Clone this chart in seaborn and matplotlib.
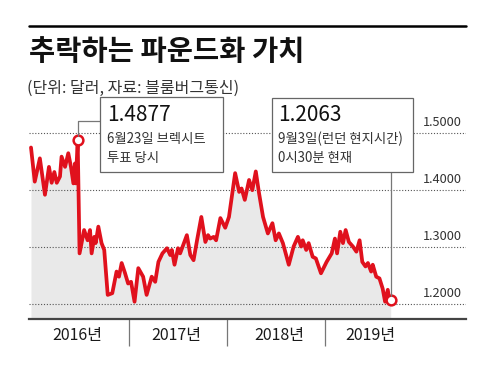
import numpy as np
import pandas as pd
import matplotlib
matplotlib.use("Agg")
import matplotlib.pyplot as plt
import matplotlib.dates as mdates
import seaborn as sns
from matplotlib.patches import Rectangle
from matplotlib.lines import Line2D
from matplotlib.ticker import FixedLocator, FixedFormatter, NullFormatter

# ---------------- data ----------------
dates = [
    "2016-01-01", "2016-01-15", "2016-02-03", "2016-02-22", "2016-03-08", "2016-03-18",
    "2016-03-28", "2016-04-06", "2016-04-18", "2016-04-24", "2016-05-07", "2016-05-19",
    "2016-05-29", "2016-06-07", "2016-06-13", "2016-06-16", "2016-06-23", "2016-06-30",
    "2016-07-17", "2016-07-30", "2016-08-08", "2016-08-14", "2016-08-24", "2016-08-29",
    "2016-09-08", "2016-09-20", "2016-09-30", "2016-10-13", "2016-10-30", "2016-11-15",
    "2016-11-24", "2016-12-04", "2016-12-16", "2016-12-28", "2017-01-08", "2017-01-21",
    "2017-02-04", "2017-02-22", "2017-03-07", "2017-03-26", "2017-04-08", "2017-04-20",
    "2017-05-05", "2017-05-22", "2017-06-03", "2017-06-09", "2017-06-19", "2017-07-02",
    "2017-07-10", "2017-08-04", "2017-08-17", "2017-08-29", "2017-09-11", "2017-09-27",
    "2017-10-12", "2017-10-22", "2017-10-30", "2017-11-12", "2017-11-21", "2017-12-07",
    "2017-12-25", "2018-01-08", "2018-01-31", "2018-02-15", "2018-02-24", "2018-03-08",
    "2018-03-24", "2018-04-05", "2018-04-18", "2018-04-30", "2018-05-15", "2018-06-02",
    "2018-06-19", "2018-07-01", "2018-07-13", "2018-07-28", "2018-08-19", "2018-09-06",
    "2018-09-22", "2018-10-04", "2018-10-10", "2018-10-23", "2018-11-01", "2018-11-16",
    "2018-11-28", "2018-12-17", "2019-01-07", "2019-01-26", "2019-02-07", "2019-02-15",
    "2019-02-27", "2019-03-09", "2019-03-19", "2019-03-31", "2019-04-15", "2019-04-28",
    "2019-05-10", "2019-05-20", "2019-06-01", "2019-06-10", "2019-06-22", "2019-06-28",
    "2019-07-11", "2019-07-23", "2019-08-04", "2019-08-13", "2019-08-23", "2019-08-30",
    "2019-09-03",
]
values = [
    1.475, 1.415, 1.456, 1.392, 1.441, 1.413,
    1.432, 1.413, 1.424, 1.459, 1.441, 1.465,
    1.441, 1.412, 1.447, 1.412, 1.4877, 1.289,
    1.330, 1.312, 1.330, 1.289, 1.318, 1.307,
    1.336, 1.307, 1.295, 1.216, 1.219, 1.257,
    1.248, 1.272, 1.255, 1.236, 1.239, 1.204,
    1.263, 1.248, 1.216, 1.248, 1.239, 1.274,
    1.289, 1.298, 1.286, 1.295, 1.269, 1.298,
    1.289, 1.321, 1.286, 1.277, 1.312, 1.353,
    1.309, 1.321, 1.315, 1.318, 1.312, 1.351,
    1.334, 1.353, 1.430, 1.397, 1.403, 1.383,
    1.418, 1.400, 1.433, 1.395, 1.353, 1.324,
    1.342, 1.312, 1.324, 1.307, 1.269, 1.301,
    1.318, 1.301, 1.312, 1.295, 1.307, 1.283,
    1.280, 1.254, 1.274, 1.289, 1.315, 1.289,
    1.327, 1.307, 1.330, 1.309, 1.301, 1.292,
    1.312, 1.274, 1.266, 1.272, 1.257, 1.269,
    1.248, 1.245, 1.227, 1.204, 1.225, 1.204,
    1.2063,
]
title = "추락하는 파운드화 가치"
subtitle = "(단위: 달러, 자료: 블룸버그통신)"
year_boundaries = ["2017-01-01", "2018-01-01", "2019-01-01"]
year_label_dates = ["2016-06-20", "2017-06-25", "2018-07-14", "2019-06-21"]
year_labels = ["2016년", "2017년", "2018년", "2019년"]
ytick_values = [1.2, 1.3, 1.4, 1.5]
ytick_labels = ["1.2000", "1.3000", "1.4000", "1.5000"]
brexit_date, brexit_value = "2016-06-23", 1.4877
brexit_lines = ["1.4877", "6월23일 브렉시트", "투표 당시"]
latest_date, latest_value = "2019-09-03", 1.2063
latest_lines = ["1.2063", "9월3일(런던 현지시간)", "0시30분 현재"]

df = pd.DataFrame({"date": pd.to_datetime(dates), "value": values})

# ---------------- style ----------------
sns.set_style("white")
plt.rcParams["font.family"] = ["Noto Sans CJK KR", "DejaVu Sans"]

W, H = 482, 372
RED = "#e0111d"
fig = plt.figure(figsize=(W / 100, H / 100), dpi=100)


def fx(x):
    return x / W


def fy(y):
    return 1 - y / H


ax = fig.add_axes([fx(29), fy(319), (466 - 29) / W, (319 - 96) / H])

d0 = mdates.date2num(pd.Timestamp("2016-01-01"))
d3 = mdates.date2num(pd.Timestamp("2019-01-01"))
k = (325 - 31) / (d3 - d0)
ax.set_xlim(d0 - 2 / k, d0 + 435 / k)
ypx = 569.0
ybot = 1.2 - 15 / ypx
ax.set_ylim(ybot, 1.2 + 208 / ypx)

# fill under the curve
ax.fill_between(mdates.date2num(df["date"]), df["value"], ybot,
                color="#e9e9e9", lw=0, zorder=1)

# dotted gridlines
for v in ytick_values:
    ax.axhline(v, color="#555555", lw=0.8, ls=(0, (1, 1.6)), zorder=2)

sns.lineplot(data=df, x="date", y="value", ax=ax, color=RED, lw=2.7,
             zorder=3, legend=False)

# markers
for dt, v in [(brexit_date, brexit_value), (latest_date, latest_value)]:
    ax.plot([mdates.date2num(pd.Timestamp(dt))], [v], marker="o", ms=7.0,
            mfc="white", mec=RED, mew=1.8, zorder=6, clip_on=False)

# y labels inside at right
for v, lab in zip(ytick_values, ytick_labels):
    ax.text(0.991, v + 10.6 / ypx, lab, transform=ax.get_yaxis_transform(),
            ha="right", va="center", fontsize=9.2, color="#333333", zorder=4)

ax.set_yticks([])
ax.set_ylabel("")
ax.set_xlabel("")

# x axis: year separators + labels
ax.xaxis.set_major_locator(FixedLocator(mdates.date2num(pd.to_datetime(year_boundaries))))
ax.xaxis.set_major_formatter(NullFormatter())
ax.xaxis.set_minor_locator(FixedLocator(mdates.date2num(pd.to_datetime(year_label_dates))))
ax.xaxis.set_minor_formatter(FixedFormatter(year_labels))
ax.tick_params(axis="x", which="major", length=19.4, width=0.9, color="#777777",
               direction="out", bottom=True)
ax.tick_params(axis="x", which="minor", length=0, pad=5.5, labelsize=11.5,
               labelcolor="#1a1a1a", bottom=True)

for s in ["top", "right", "left"]:
    ax.spines[s].set_visible(False)
ax.spines["bottom"].set_color("#444444")
ax.spines["bottom"].set_linewidth(1.6)
ax.spines["bottom"].set_zorder(5)

# ---------------- title block ----------------
fig.add_artist(Line2D([fx(29), fx(466)], [fy(26), fy(26)], color="black", lw=1.8))
fig.text(fx(29), fy(52), title, fontsize=20.5, fontweight="black", color="#111111",
         ha="left", va="center")
fig.text(fx(27), fy(88), subtitle, fontsize=11.5, color="#333333",
         ha="left", va="center")

# ---------------- annotation boxes ----------------
fig.canvas.draw()


def data_to_px(dt, v):
    X, Y = ax.transData.transform((mdates.date2num(pd.Timestamp(dt)), v))
    return X, H - Y


def add_box(x0, y0, x1, y1, lines, tx):
    fig.add_artist(Rectangle((fx(x0), fy(y1)), (x1 - x0) / W, (y1 - y0) / H,
                             transform=fig.transFigure, fc="white", ec="#666666",
                             lw=0.9, zorder=3))
    fig.text(fx(tx), fy(115), lines[0], fontsize=15, color="#111111",
             ha="left", va="center", zorder=4)
    fig.text(fx(tx), fy(138.5), lines[1], fontsize=9.6, color="#333333",
             ha="left", va="center", zorder=4)
    fig.text(fx(tx), fy(158), lines[2], fontsize=9.6, color="#333333",
             ha="left", va="center", zorder=4)


bx, by = data_to_px(brexit_date, brexit_value)
fig.add_artist(Line2D([fx(bx), fx(bx), fx(100)], [fy(by - 4.5), fy(120.7), fy(120.7)],
                      color="#777777", lw=0.9, zorder=2))
add_box(100, 97, 223, 172, brexit_lines, 107)

lx, ly = data_to_px(latest_date, latest_value)
fig.add_artist(Line2D([fx(lx), fx(lx)], [fy(172), fy(ly - 4.5)],
                      color="#777777", lw=0.9, zorder=2))
add_box(272, 98, 413, 172, latest_lines, 278)

fig.savefig("out.png", dpi=100)
